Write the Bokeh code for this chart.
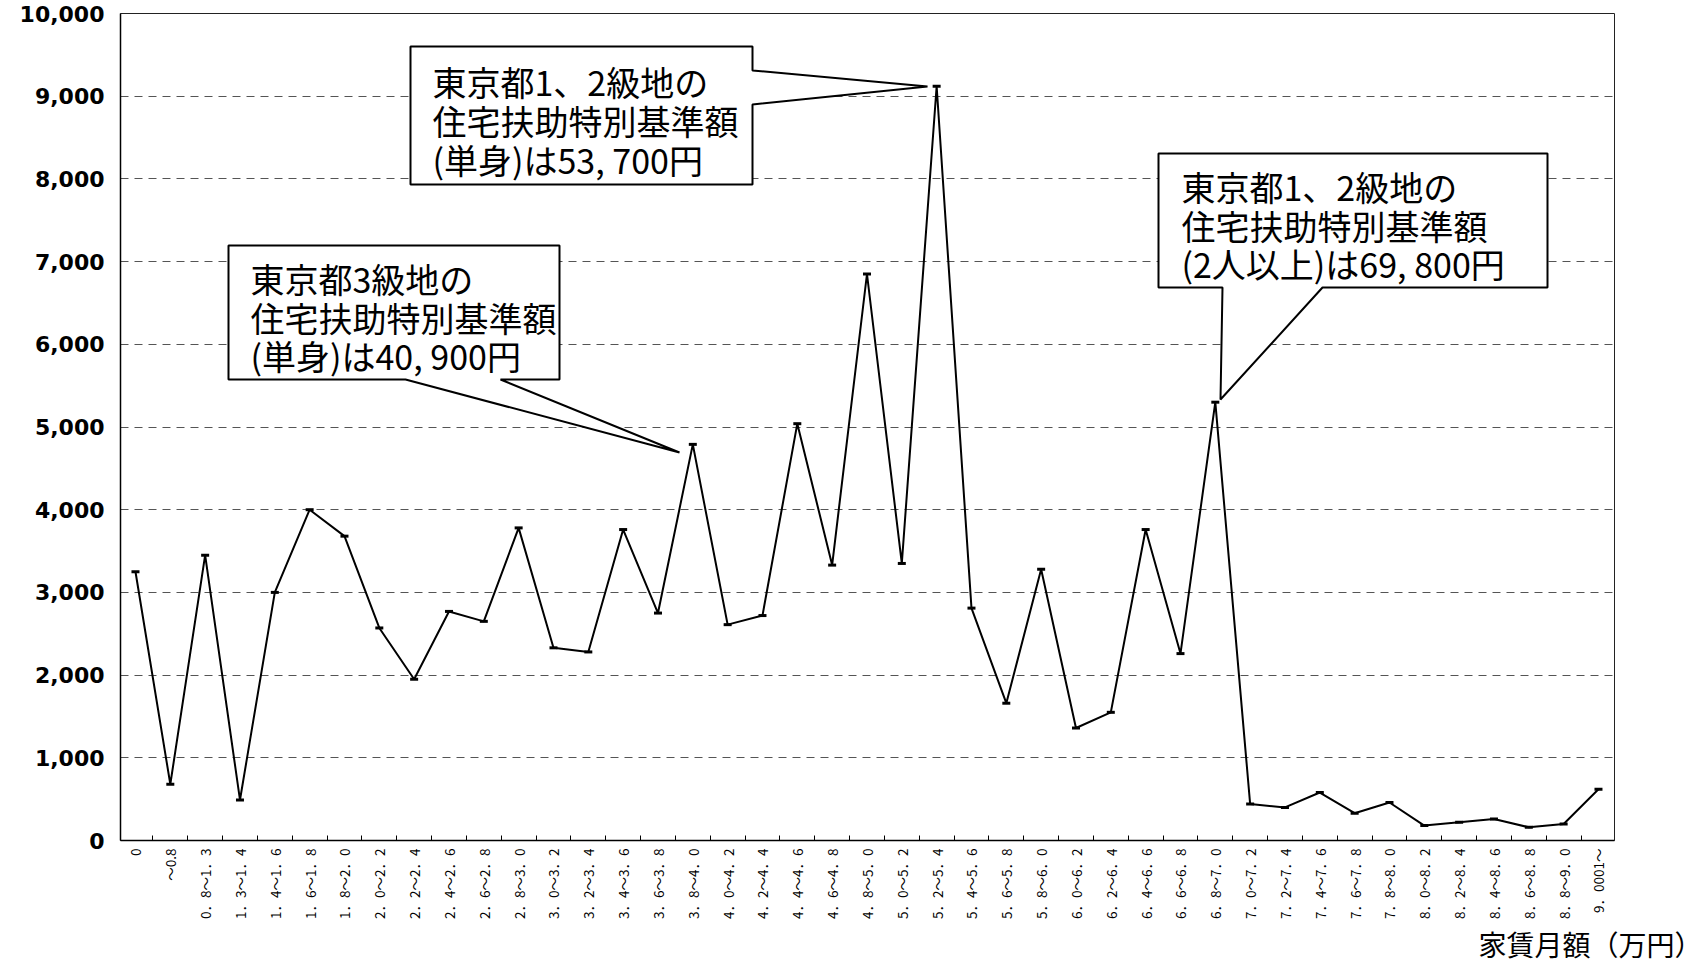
import math
from bokeh.plotting import figure
from bokeh.models import Range1d, FixedTicker, NumeralTickFormatter, Title, ColumnDataSource
from bokeh.core.properties import value
from bokeh.embed import file_html
from bokeh.resources import INLINE

# ---- data ----
categories = [
    "0", "～0.8", "0．8～1．3", "1．3～1．4", "1．4～1．6", "1．6～1．8", "1．8～2．0",
    "2．0～2．2", "2．2～2．4", "2．4～2．6", "2．6～2．8", "2．8～3．0", "3．0～3．2",
    "3．2～3．4", "3．4～3．6", "3．6～3．8", "3．8～4．0", "4．0～4．2", "4．2～4．4",
    "4．4～4．6", "4．6～4．8", "4．8～5．0", "5．0～5．2", "5．2～5．4", "5．4～5．6",
    "5．6～5．8", "5．8～6．0", "6．0～6．2", "6．2～6．4", "6．4～6．6", "6．6～6．8",
    "6．8～7．0", "7．0～7．2", "7．2～7．4", "7．4～7．6", "7．6～7．8", "7．8～8．0",
    "8．0～8．2", "8．2～8．4", "8．4～8．6", "8．6～8．8", "8．8～9．0", "9．0001～",
]
counts = [
    3250, 680, 3450, 490, 3000, 4000, 3680,
    2570, 1950, 2770, 2650, 3780, 2330,
    2280, 3760, 2750, 4790, 2610, 2720,
    5040, 3330, 6850, 3350, 9120, 2810,
    1660, 3280, 1360, 1550, 3760, 2260,
    5300, 440, 400, 580, 330, 460,
    180, 220, 260, 160, 200, 620,
]
y_ticks = list(range(0, 10001, 1000))

callout_texts = [
    ["東京都1、2級地の", "住宅扶助特別基準額", "(単身)は53, 700円"],
    ["東京都3級地の", "住宅扶助特別基準額", "(単身)は40, 900円"],
    ["東京都1、2級地の", "住宅扶助特別基準額", "(2人以上)は69, 800円"],
]
x_title = "家賃月額（万円）"

FONT_JP = "Noto Sans CJK JP"

# ---- layout (canvas pixels) ----
F_LEFT, F_RIGHT, F_TOP, F_BOTTOM = 120, 1614, 13, 840
RIGHT_PAD = 86
X_MIN, X_MAX = -0.43, 42.46
Y_MIN, Y_MAX = 0, 10000


def dx(px):
    return X_MIN + (px - F_LEFT) / (F_RIGHT - F_LEFT) * (X_MAX - X_MIN)


def dy(py):
    return Y_MIN + (F_BOTTOM - py) / (F_BOTTOM - F_TOP) * (Y_MAX - Y_MIN)


xs = list(range(len(categories)))

p = figure(frame_width=F_RIGHT - F_LEFT, frame_height=F_BOTTOM - F_TOP,
           output_backend="svg", toolbar_location=None,
           x_range=Range1d(X_MIN, X_MAX), y_range=Range1d(Y_MIN, Y_MAX),
           min_border_left=F_LEFT, min_border_right=RIGHT_PAD,
           min_border_top=F_TOP, min_border_bottom=0)
p.background_fill_color = "white"
p.border_fill_color = "white"
p.outline_line_color = "#222222"
p.outline_line_width = 1

# axes
p.xaxis.ticker = FixedTicker(ticks=xs, minor_ticks=[i + 0.5 for i in xs[:-1]])
p.xaxis.major_label_overrides = {i: c for i, c in enumerate(categories)}
p.xaxis.major_label_orientation = math.pi / 2
p.xaxis.major_label_text_font = FONT_JP
p.xaxis.major_label_text_font_size = "13.5px"
p.xaxis.major_label_text_color = "black"
p.xaxis.major_label_standoff = 8
p.xaxis.major_tick_in = 0
p.xaxis.major_tick_out = 0
p.xaxis.minor_tick_in = 5
p.xaxis.minor_tick_out = 0
p.xaxis.axis_line_color = "black"
p.xaxis.axis_line_width = 1.5

p.yaxis.ticker = FixedTicker(ticks=y_ticks)
p.yaxis.formatter = NumeralTickFormatter(format="0,0")
p.yaxis.major_label_text_font = "DejaVu Sans"
p.yaxis.major_label_text_font_style = "bold"
p.yaxis.major_label_text_font_size = "22px"
p.yaxis.major_label_text_color = "black"
p.yaxis.major_label_standoff = 16
p.yaxis.major_tick_in = 0
p.yaxis.major_tick_out = 0
p.yaxis.minor_tick_line_color = None
p.yaxis.axis_line_color = "black"
p.yaxis.axis_line_width = 1.5

p.xgrid.grid_line_color = None
p.ygrid.ticker = FixedTicker(ticks=y_ticks[1:-1])
p.ygrid.grid_line_color = "#555555"
p.ygrid.grid_line_dash = "8 6"
p.ygrid.grid_line_width = 1

# series
src = ColumnDataSource(data=dict(x=xs, y=counts))
p.line("x", "y", source=src, line_color="black", line_width=2)
p.scatter("x", "y", source=src, marker="dash", size=8, line_color="black", line_width=3)

# callouts, geometry given in canvas pixels and converted to data units
callouts = [
    dict(box=(410, 752, 46, 184), side="right", base=(70, 104), tip=(927, 86),
         tx=432, ty=(81, 120, 159)),
    dict(box=(228, 559, 245, 379), side="bottom", base=(500, 405), tip=(679, 452),
         tx=250, ty=(278, 317, 355)),
    dict(box=(1158, 1547, 153, 287), side="bottom", base=(1322, 1222), tip=(1220, 399),
         tx=1181, ty=(186, 225, 263)),
]
for co, lines in zip(callouts, callout_texts):
    l, r, t, b = co["box"]
    b1, b2 = co["base"]
    tx_, ty_ = co["tip"]
    if co["side"] == "right":
        pts = [(l, t), (r, t), (r, b1), (tx_, ty_), (r, b2), (r, b), (l, b)]
    else:
        pts = [(l, t), (r, t), (r, b), (b1, b), (tx_, ty_), (b2, b), (l, b)]
    p.patch([dx(a) for a, _ in pts], [dy(c) for _, c in pts],
            fill_color="white", line_color="black", line_width=2)
    p.text(x=[dx(co["tx"])] * 3, y=[dy(v) for v in co["ty"]], text=lines, text_font=value(FONT_JP),
           text_font_size="34px", text_baseline="middle", text_align="left", text_color="black")

title_kw = dict(text=x_title, align="right", offset=-88, text_font=FONT_JP,
                text_font_size="28px", text_font_style="normal", text_color="black")
if "standoff" in Title.properties():
    title_kw["standoff"] = 0
p.add_layout(Title(**title_kw), "below")

open("out.html", "w").write(file_html(p, INLINE))
